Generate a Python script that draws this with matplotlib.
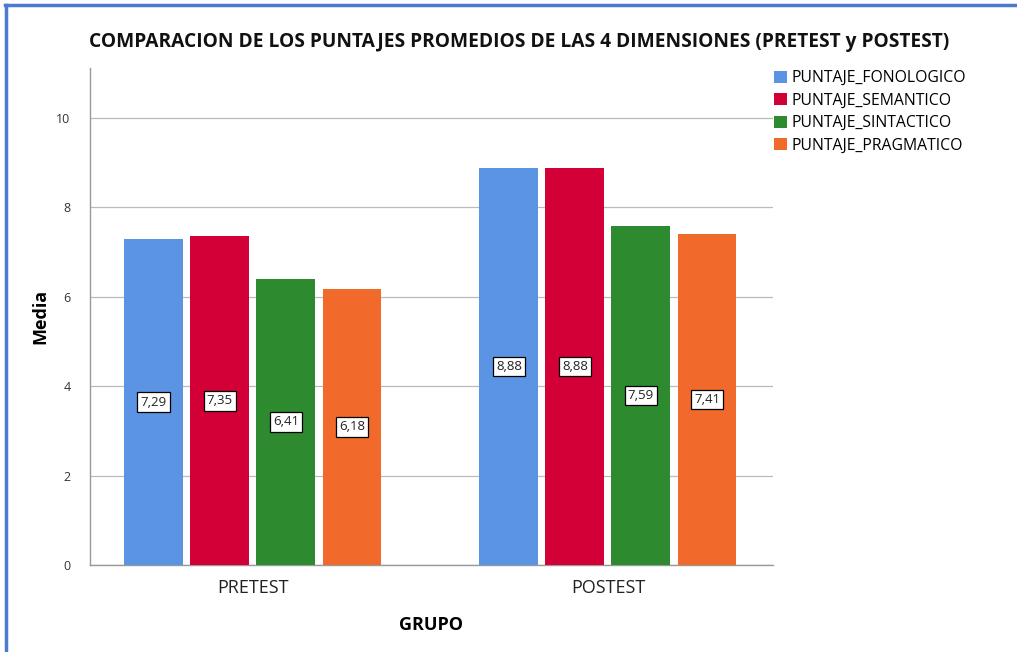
import matplotlib
matplotlib.use("Agg")
import matplotlib.pyplot as plt
from matplotlib.lines import Line2D
import numpy as np

groups = ["PRETEST", "POSTEST"]
series = ["PUNTAJE_FONOLOGICO", "PUNTAJE_SEMANTICO", "PUNTAJE_SINTACTICO", "PUNTAJE_PRAGMATICO"]
fonologico = [7.29, 8.88]
semantico = [7.35, 8.88]
sintactico = [6.41, 7.59]
pragmatico = [6.18, 7.41]
values = [fonologico, semantico, sintactico, pragmatico]
colors = ["#5A94E2", "#D30037", "#2D8A2E", "#F26A2B"]
yticks = [0, 2, 4, 6, 8, 10]

FAM = ["Liberation Sans Narrow", "Open Sans", "DejaVu Sans"]

fig = plt.figure(figsize=(10.17, 6.52), dpi=100)
ax = fig.add_axes([90/1017, 1-565/652, (773-90)/1017, (565-68)/652])

x = np.arange(len(groups))
step = 0.186
width = 0.166
for i, (name, vals, c) in enumerate(zip(series, values, colors)):
    pos = x + (i - 1.5) * step
    ax.bar(pos, vals, width=width, color=c, label=name, zorder=3)
    for p, v in zip(pos, vals):
        ax.text(p, v / 2, f"{v:.2f}".replace(".", ","), ha="center", va="center",
                fontsize=9.5, family=FAM, color="#222222", zorder=4,
                bbox=dict(boxstyle="square,pad=0.25", fc="white", ec="black", lw=0.9))

ax.set_xlim(-0.459, 1.465)
ax.set_ylim(0, 11.12)
ax.set_yticks(yticks)
ax.set_yticklabels([str(t) for t in yticks], fontsize=9, family=FAM, color="#333333")
ax.set_xticks(x)
ax.set_xticklabels(groups, fontsize=13, family=FAM, color="#222222")
ax.tick_params(axis="x", length=0, pad=10)
ax.tick_params(axis="y", length=0, pad=14)
ax.yaxis.grid(True, color="#BBBBBB", lw=0.9, zorder=0)
for s in ["top", "right"]:
    ax.spines[s].set_visible(False)
for s in ["left", "bottom"]:
    ax.spines[s].set_color("#999999")
    ax.spines[s].set_linewidth(1.0)

ax.set_ylabel("Media", fontsize=13, fontweight="bold", family=FAM, labelpad=5)
ax.set_xlabel("GRUPO", fontsize=13, fontweight="bold", family=FAM, labelpad=14)

fig.text(519/1017, 1-42/652, "COMPARACION DE LOS PUNTAJES PROMEDIOS DE LAS 4 DIMENSIONES (PRETEST y POSTEST)",
         ha="center", va="center", fontsize=13.8, fontweight="bold", family=FAM, color="#111111")

leg = fig.legend(loc="upper left", bbox_to_anchor=(774/1017, 1-70/652), frameon=False,
                 prop={"family": FAM, "size": 11.3}, handlelength=0.8, handleheight=0.8,
                 handletextpad=0.3, labelspacing=0.42, borderaxespad=0, borderpad=0)

# blue frame
fig.add_artist(Line2D([5/1017, 1.0], [1-5/652, 1-5/652], color="#4A7BD0", lw=2.5, transform=fig.transFigure))
fig.add_artist(Line2D([6/1017, 6/1017], [0, 1-5/652], color="#4A7BD0", lw=2.5, transform=fig.transFigure))

fig.savefig("out.png", dpi=100)
